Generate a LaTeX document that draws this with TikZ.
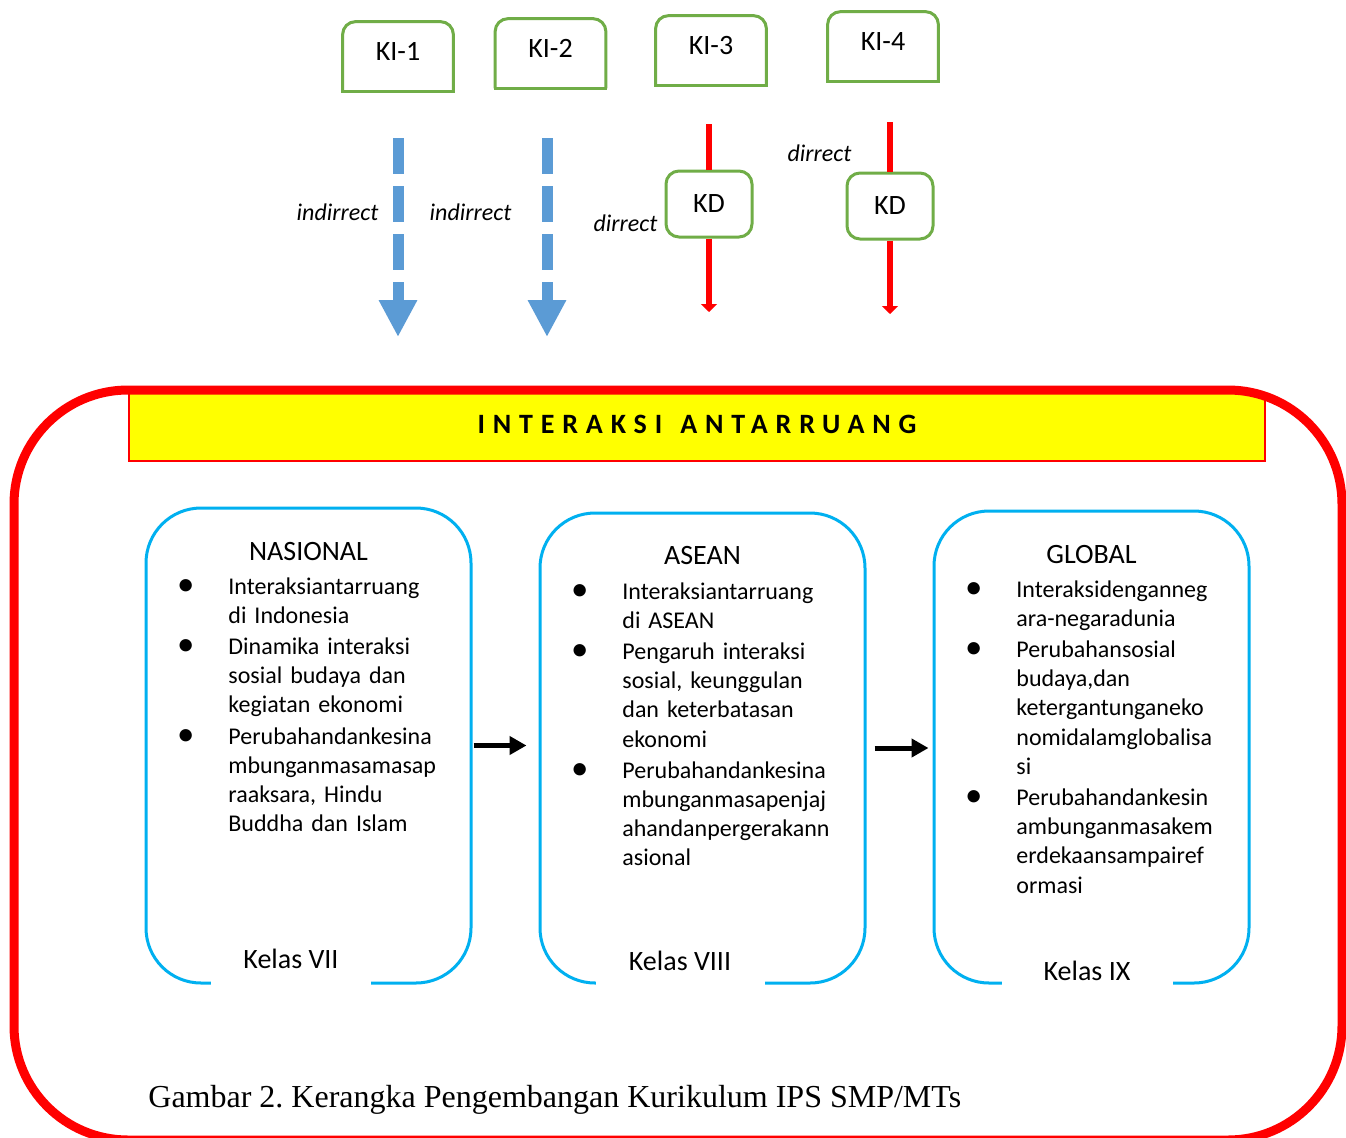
\documentclass[tikz,border=0pt]{standalone}
\usepackage{fontspec}
\setmainfont{Carlito}
\newfontfamily\capfont{Liberation Serif}
\usetikzlibrary{arrows.meta}
\definecolor{kgreen}{HTML}{70AD47}
\definecolor{kblue}{HTML}{5B9BD5}
\definecolor{kcyan}{HTML}{00B0F0}
\definecolor{kred}{HTML}{FF0000}
\definecolor{kyellow}{HTML}{FFFF00}
\newcommand\bul{\leavevmode\llap{\raisebox{-0.6pt}{\scalebox{1.45}{\textbullet}}\hspace{17pt}}}
\frenchspacing
\begin{document}
\begin{tikzpicture}[x=0.5pt,y=-0.5pt,
  kibox/.style={minimum width=55pt,minimum height=34.5pt,inner sep=0pt,text height=9pt,text depth=4.8pt,font=\fontsize{14}{16}\selectfont},
  kiline/.style={draw=kgreen,line width=1.5pt},
  kdbox/.style={draw=kgreen,line width=1.5pt,rounded corners=6.5pt,minimum width=43pt,minimum height=33pt,inner sep=0pt,fill=white,font=\fontsize{14}{16}\selectfont},
  indarrow/.style={draw=kblue,line width=5.5pt,dash pattern=on 18pt off 6pt,-{Triangle[width=18pt,length=18.5pt]}},
  dirline/.style={draw=kred,line width=3pt},
  dirarrow/.style={dirline,-{Triangle[width=8pt,length=4pt]}},
  lab/.style={anchor=base,inner sep=0pt,font=\fontsize{12}{14}\selectfont\itshape},
  lvbox/.style={draw=kcyan,line width=1.5pt,rounded corners=27.5pt,inner sep=0pt},
  ttl/.style={anchor=base,inner sep=0pt,font=\fontsize{14}{16}\selectfont},
  lst/.style={anchor=base west,inner sep=0pt,text width=140pt,align=left,font=\fontsize{12}{14.6}\selectfont},
  kelas/.style={anchor=base,fill=white,inner xsep=0pt,inner ysep=1pt,text height=10pt,font=\fontsize{14}{16}\selectfont},
  flowarrow/.style={draw=black,line width=2.5pt,-{Triangle[width=9pt,length=8.5pt]}},
  banner/.style={fill=kyellow,draw=kred,line width=1pt,minimum width=568pt,minimum height=34pt,inner sep=0pt,text height=9pt,text depth=3pt,font=\fontsize{14}{16}\selectfont\bfseries}
]
\useasboundingbox (0,0) rectangle (1346,1137);
\fill[white] (0,0) rectangle (1346,1137);

% KI boxes
\node[kibox] (KI1) at (398,56.5) {KI-1};
\node[kibox] (KI2) at (550.5,53.5) {KI-2};
\node[kibox] (KI3) at (711,50.5) {KI-3};
\node[kibox] (KI4) at (883,46.5) {KI-4};
\foreach \n in {KI1,KI2,KI3,KI4}{
  \draw[kiline,rounded corners=6.5pt] (\n.south west) -- (\n.north west) -- (\n.north east) -- (\n.south east);
  \draw[kiline,line cap=rect] (\n.south west) -- (\n.south east);
}

% KD boxes
\node[kdbox] (kd1) at (709,204) {KD};
\node[kdbox] (kd2) at (890,206) {KD};

% indirect arrows
\coordinate (e1) at (398,337);
\coordinate (e2) at (547,337);
\draw[indarrow,shorten <=23.5pt] (KI1.south) -- (e1);
\draw[indarrow,shorten <=25pt] (KI2.south -| e2) -- (e2);

% direct arrows
\coordinate (e3) at (709,312);
\coordinate (e4) at (890,314);
\draw[dirline,shorten <=19.5pt] (KI3.south -| kd1.north) -- (kd1.north);
\draw[dirarrow] (kd1.south) -- (e3);
\draw[dirline,shorten <=20.5pt] (KI4.south -| kd2.north) -- (kd2.north);
\draw[dirarrow] (kd2.south) -- (e4);

% labels
\node[lab] (l1) at (337.5,220) {indirrect};
\node[lab] (l2) at (470.5,220) {indirrect};
\node[lab] (l3) at (625.5,231.5) {dirrect};
\node[lab] (l4) at (819.5,161.5) {dirrect};

% banner
\node[banner] (ban) at (697,427) {\addfontfeature{LetterSpace=28}INTERAKSI\hspace{9pt}ANTARRUANG};

% outer red frame
\draw[kred,line width=4.5pt,rounded corners=57pt] (14,390) rectangle (1342,1140);

% level boxes
\node[lvbox,minimum width=162.5pt,minimum height=237.5pt] (nas) at (308.5,745.5) {};
\node[lvbox,minimum width=162.5pt,minimum height=235pt] (asean) at (702.5,748) {};
\node[lvbox,minimum width=157.5pt,minimum height=236pt] (glob) at (1091.5,747) {};

\node[ttl] (t1) at (308.5,560) {NASIONAL};
\node[ttl] (t2) at (702.5,564) {ASEAN};
\node[ttl] (t3) at (1091.5,563) {GLOBAL};

\node[lst] (n1) at (228,594) {\bul Interaksiantarruang\\ di Indonesia\\[1pt]
\bul Dinamika interaksi\\ sosial budaya dan\\ kegiatan ekonomi\\[1pt]
\bul Perubahandankesina\\ mbunganmasamasap\\ raaksara, Hindu\\ Buddha dan Islam};

\node[lst] (n2) at (622,599) {\bul Interaksiantarruang\\ di ASEAN\\[1pt]
\bul Pengaruh interaksi\\ sosial, keunggulan\\ dan keterbatasan\\ ekonomi\\[1pt]
\bul Perubahandankesina\\ mbunganmasapenjaj\\ ahandanpergerakann\\ asional};

\node[lst] (n3) at (1016,597) {\bul Interaksidenganneg\\ ara-negaradunia\\[1pt]
\bul Perubahansosial\\ budaya,dan\\ ketergantunganeko\\ nomidalamglobalisa\\ si\\[1pt]
\bul Perubahandankesin\\ ambunganmasakem\\ erdekaansampairef\\ ormasi};

\node[kelas,minimum width=80pt,text depth=8pt] (k7) at (291,968) {Kelas VII};
\node[kelas,minimum width=84.5pt,text depth=6.6pt] (k8) at (680,970.5) {Kelas VIII};
\node[kelas,minimum width=85.5pt,text depth=2.5pt] (k9) at (1087,980) {Kelas IX};

% flow arrows
\draw[flowarrow,shorten <=0.5pt,shorten >=6pt] (nas.east) -- (nas.east -| asean.west);
\draw[flowarrow,shorten <=4pt,shorten >=2pt] (asean.east) -- (asean.east -| glob.west);

% caption
\node[anchor=base west,inner sep=0pt,font=\capfont\fontsize{16}{19}\selectfont] (cap) at (148,1107) {Gambar 2. Kerangka Pengembangan Kurikulum IPS SMP/MTs};
\end{tikzpicture}
\end{document}
